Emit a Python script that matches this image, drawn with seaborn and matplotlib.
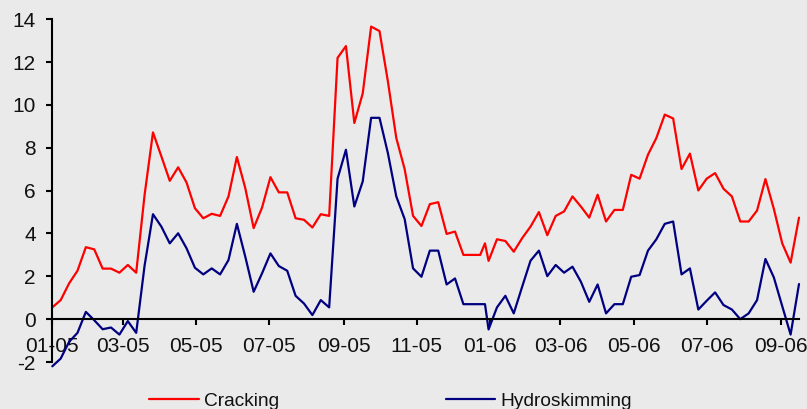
import numpy as np
import pandas as pd
import matplotlib
matplotlib.use("Agg")
import matplotlib.pyplot as plt
import matplotlib.dates as mdates
import seaborn as sns

# ---- data ----
dates_part1 = pd.date_range("2005-01-01", periods=52, freq="7D")
extra_date = [pd.Timestamp("2005-12-28")]
dates_part2 = pd.date_range("2005-12-31", periods=38, freq="7D")
dates = list(dates_part1) + extra_date + list(dates_part2)

cracking = [0.55, 0.89, 1.67, 2.26, 3.36, 3.26, 2.36, 2.36, 2.17, 2.53,
            2.17, 5.8, 8.72, 7.6, 6.46, 7.09, 6.38, 5.18, 4.71, 4.92,
            4.82, 5.73, 7.57, 6.12, 4.25, 5.21, 6.63, 5.92,
            5.92, 4.71, 4.64, 4.28, 4.9, 4.82, 12.2, 12.75, 9.16, 10.54,
            13.66, 13.45, 11.1, 8.46, 7.0, 4.82, 4.35, 5.37, 5.46, 3.98,
            4.09, 3.0, 3.0, 3.0,
            3.54,
            2.72, 3.73, 3.65, 3.15, 3.78, 4.32, 5.0,
            3.92, 4.82, 5.03, 5.73, 5.26, 4.74, 5.81, 4.56, 5.1, 5.1,
            6.74, 6.56, 7.68, 8.46, 9.55, 9.37, 7.01, 7.73, 6.01, 6.56,
            6.82, 6.09, 5.73, 4.56, 4.56, 5.07, 6.54, 5.15, 3.54, 2.64,
            4.74]

hydroskimming = [-2.2, -1.84, -1.06, -0.64, 0.34, -0.05, -0.47, -0.39, -0.72, -0.09,
                 -0.64, 2.5, 4.9, 4.32, 3.54, 4.01, 3.31, 2.4, 2.09, 2.37,
                 2.09, 2.76, 4.45, 2.92, 1.28, 2.14, 3.07, 2.48,
                 2.26, 1.09, 0.73, 0.19, 0.89, 0.55, 6.56, 7.91, 5.26, 6.43,
                 9.4, 9.4, 7.75, 5.73, 4.67, 2.37, 1.98, 3.2, 3.2, 1.62,
                 1.9, 0.7, 0.7, 0.7,
                 0.7,
                 -0.48, 0.55, 1.09, 0.27, 1.51, 2.73, 3.2,
                 2.01, 2.53, 2.17, 2.45, 1.75, 0.81, 1.62, 0.27, 0.7, 0.7,
                 1.98, 2.06, 3.2, 3.73, 4.45, 4.56, 2.09, 2.37, 0.45, 0.86,
                 1.25, 0.66, 0.45, 0.0, 0.27, 0.89, 2.81, 1.95, 0.61, -0.72,
                 1.64]

series_names = ["Cracking", "Hydroskimming"]
series_colors = ["#FF0000", "#000080"]
y_ticks = [-2, 0, 2, 4, 6, 8, 10, 12, 14]

df = pd.concat([
    pd.DataFrame({"date": dates, "value": cracking, "series": series_names[0]}),
    pd.DataFrame({"date": dates, "value": hydroskimming, "series": series_names[1]}),
], ignore_index=True)

# ---- styling ----
bg = "#EAEAEA"
sns.set_theme(style="white")
plt.rcParams["font.family"] = ["Liberation Sans", "DejaVu Sans"]
plt.rcParams["axes.unicode_minus"] = False

W, H = 807, 409
fig = plt.figure(figsize=(W / 100, H / 100), dpi=100, facecolor=bg)
ax = fig.add_axes([52.3 / W, 1 - 362 / H, (799 - 52.3) / W, (362 - 19.3) / H])
ax.set_facecolor(bg)

sns.lineplot(data=df, x="date", y="value", hue="series", hue_order=series_names,
             palette=dict(zip(series_names, series_colors)), estimator=None,
             linewidth=1.6, ax=ax, legend=True)
for ln in ax.lines:
    ln.set_clip_on(False)

ax.set_xlim(dates[0], dates[-1])
ax.set_ylim(-2, 14)
ax.set_yticks(y_ticks)
ax.set_xlabel("")
ax.set_ylabel("")

for s in ["top", "right"]:
    ax.spines[s].set_visible(False)
ax.spines["bottom"].set_position(("data", 0))
for s in ["left", "bottom"]:
    ax.spines[s].set_color("black")
    ax.spines[s].set_linewidth(1.5)

ax.xaxis.set_major_locator(mdates.MonthLocator(bymonth=[1, 3, 5, 7, 9, 11]))
ax.xaxis.set_major_formatter(mdates.DateFormatter("%m-%y"))
ax.tick_params(axis="x", direction="out", length=4.5, width=1.5, color="black",
               labelsize=15, pad=8, labelcolor="#111111", bottom=True)
ax.tick_params(axis="y", direction="out", length=4.5, width=1.5, color="black",
               labelsize=15, pad=7.5, labelcolor="#111111", left=True)

handles, labels = ax.get_legend_handles_labels()
ax.get_legend().remove()
leg = fig.legend(handles, labels, loc="center left",
                 bbox_to_anchor=(149 / W, (H - 401) / H), ncol=2, frameon=False,
                 fontsize=13.8, handlelength=2.6, handletextpad=0.25,
                 columnspacing=8.7, borderpad=0, borderaxespad=0)
for t in leg.get_texts():
    t.set_color("#111111")

fig.savefig("out.png", dpi=100, facecolor=bg)
